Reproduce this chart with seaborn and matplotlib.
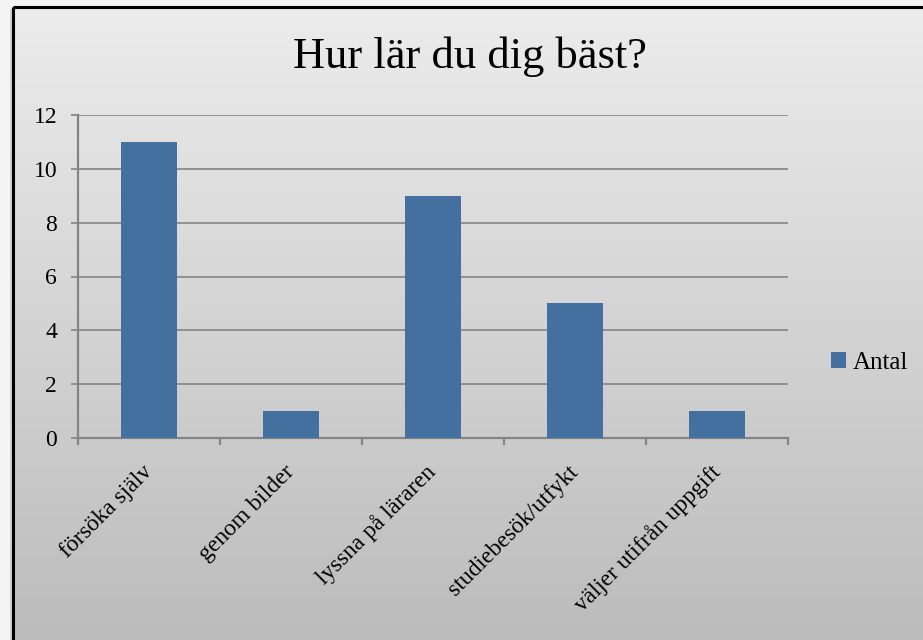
import numpy as np
import pandas as pd
import matplotlib
matplotlib.use("Agg")
import matplotlib.pyplot as plt
import seaborn as sns
from matplotlib.patches import Rectangle

categories = ["försöka själv", "genom bilder", "lyssna på läraren",
              "studiebesök/utfykt", "väljer utifrån uppgift"]
values = [11, 1, 9, 5, 1]
series_name = "Antal"
title = "Hur lär du dig bäst?"
yticks = [0, 2, 4, 6, 8, 10, 12]

sns.set_theme(style="white")
plt.rcParams["font.family"] = ["Liberation Serif", "DejaVu Serif"]
plt.rcParams["text.color"] = "black"

W, H = 923, 640
fig = plt.figure(figsize=(W / 100, H / 100), dpi=100)
fig.patch.set_facecolor("#f4f4f4")

# background gradient axes
bg = fig.add_axes([0, 0, 1, 1])
bg.set_xlim(0, W)
bg.set_ylim(H, 0)
bg.axis("off")
grad = np.linspace(0, 1, 256).reshape(-1, 1)
top = np.array([0.925, 0.925, 0.925])
bot = np.array([0.735, 0.735, 0.735])
img = top[None, None, :] * (1 - grad[:, :, None]) + bot[None, None, :] * grad[:, :, None]
bg.imshow(img, extent=[13, W + 5, H + 5, 7], aspect="auto", zorder=0)
bg.add_patch(Rectangle((13, 7), W, H, fill=False, edgecolor="black", lw=2.2, zorder=2))
bg.add_patch(Rectangle((10, 9), 2.5, H, color="#d0d0d0", lw=0, zorder=1))

df = pd.DataFrame({"cat": categories, "val": values})
ax = fig.add_axes([78 / W, (H - 438) / H, (788 - 78) / W, (438 - 115) / H])
ax.set_facecolor("none")
sns.barplot(data=df, x="cat", y="val", color="#44709F", width=0.4,
            saturation=1, label=series_name, ax=ax, zorder=3, linewidth=0)
ax.set_xlim(-0.5, len(categories) - 0.5)
ax.set_ylim(0, 12)
ax.set_yticks(yticks)
ax.set_yticklabels([str(t) for t in yticks], fontsize=17)
ax.set_xlabel("")
ax.set_ylabel("")
gc = "#848484"
for y in yticks[1:]:
    ax.axhline(y, color=gc, lw=1.2, zorder=1)
for s in ["top", "right"]:
    ax.spines[s].set_visible(False)
for s in ["left", "bottom"]:
    ax.spines[s].set_color(gc)
    ax.spines[s].set_linewidth(1.6)
ax.tick_params(axis="y", which="major", length=5, width=1.2, color=gc, pad=10,
               left=True, labelcolor="black")
ax.set_xticks(range(len(categories)))
ax.set_xticklabels(categories, rotation=45, ha="right", va="center",
                   rotation_mode="anchor", fontsize=17)
ax.tick_params(axis="x", which="major", length=0, pad=22, labelcolor="black")
ax.set_xticks(np.arange(-0.5, len(categories)), minor=True)
ax.tick_params(axis="x", which="minor", length=5, width=1.6, color=gc, bottom=True)

fig.text(470 / W, 1 - 57 / H, title, ha="center", va="center", fontsize=32,
         color="black")

leg = ax.legend(loc="center left", bbox_to_anchor=(808 / W, 1 - 363 / H),
                bbox_transform=fig.transFigure, frameon=False, fontsize=18,
                handlelength=0.6, handleheight=0.6, handletextpad=0.3)
for t in leg.get_texts():
    t.set_color("black")

fig.savefig("out.png", dpi=100)
